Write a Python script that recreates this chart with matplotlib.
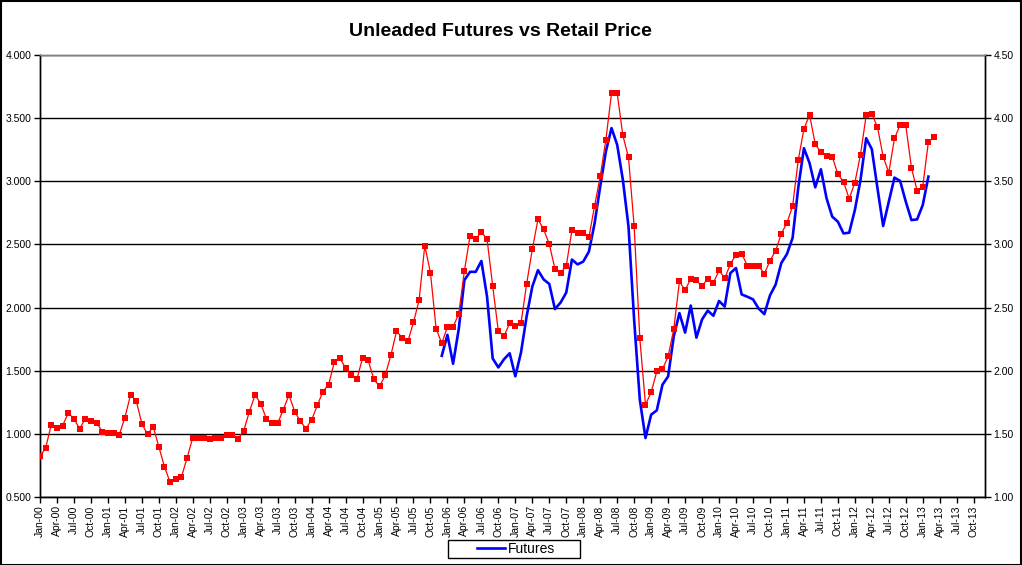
import numpy as np
import pandas as pd
import matplotlib
matplotlib.use("Agg")
import matplotlib.pyplot as plt
from matplotlib.patches import Rectangle
from matplotlib.ticker import FormatStrFormatter

plt.rcParams['font.family'] = ['Liberation Sans', 'DejaVu Sans']

# ----------------------------
# Data (monthly, Jan-00 .. Dec-13 categories)
# ----------------------------
months = pd.date_range("2000-01-01", periods=168, freq="MS").strftime("%b-%y").tolist()

# retail price (right axis), starts Jan-00
retail = [1.321, 1.389, 1.574, 1.55, 1.566, 1.666, 1.618, 1.542, 1.618, 1.605, 1.589, 1.518,
          1.503, 1.503, 1.49, 1.629, 1.808, 1.763, 1.582, 1.495, 1.558, 1.397, 1.239, 1.116,
          1.142, 1.16, 1.31, 1.471, 1.471, 1.471, 1.463, 1.471, 1.471, 1.487, 1.487, 1.463,
          1.524, 1.676, 1.808, 1.74, 1.62, 1.584, 1.584, 1.692, 1.808, 1.677, 1.60, 1.542,
          1.61, 1.725, 1.835, 1.89, 2.066, 2.10, 2.021, 1.963, 1.932, 2.10, 2.082, 1.932,
          1.876, 1.963, 2.121, 2.311, 2.263, 2.232, 2.382, 2.561, 2.99, 2.776, 2.334, 2.216,
          2.347, 2.347, 2.45, 2.791, 3.068, 3.045, 3.097, 3.042, 2.671, 2.311, 2.274, 2.376,
          2.352, 2.376, 2.689, 2.961, 3.198, 3.12, 3.003, 2.807, 2.775, 2.83, 3.112, 3.092,
          3.092, 3.056, 3.304, 3.538, 3.828, 4.198, 4.198, 3.863, 3.689, 3.142, 2.256, 1.731,
          1.828, 1.995, 2.013, 2.113, 2.33, 2.707, 2.637, 2.73, 2.715, 2.668, 2.73, 2.695,
          2.794, 2.732, 2.844, 2.919, 2.927, 2.833, 2.833, 2.833, 2.766, 2.872, 2.95, 3.085,
          3.17, 3.304, 3.669, 3.915, 4.026, 3.794, 3.728, 3.704, 3.696, 3.556, 3.497, 3.362,
          3.489, 3.712, 4.021, 4.034, 3.929, 3.696, 3.569, 3.839, 3.947, 3.942, 3.608, 3.426,
          3.458, 3.815, 3.849]

# unleaded futures (left axis), starts Dec-05
futures_start = "Dec-05"
futures = [1.618,
           1.784, 1.555, 1.83, 2.218, 2.283, 2.283, 2.369, 2.087, 1.597, 1.526, 1.591, 1.638,
           1.456, 1.644, 1.931, 2.166, 2.296, 2.223, 2.187, 1.988, 2.04, 2.119, 2.38, 2.342,
           2.364, 2.443, 2.665, 2.959, 3.236, 3.421, 3.289, 3.012, 2.642, 1.9, 1.27, 0.967,
           1.152, 1.186, 1.389, 1.455, 1.772, 1.956, 1.802, 2.016, 1.762, 1.906, 1.976, 1.935,
           2.052, 2.008, 2.273, 2.313, 2.104, 2.086, 2.065, 1.992, 1.948, 2.096, 2.182, 2.352,
           2.424, 2.552, 2.95, 3.262, 3.143, 2.952, 3.095, 2.865, 2.72, 2.68, 2.587, 2.593,
           2.772, 3.011, 3.341, 3.254, 2.944, 2.646, 2.839, 3.029, 3.003, 2.839, 2.693, 2.698,
           2.812, 3.037]

left_ticks = [0.5, 1.0, 1.5, 2.0, 2.5, 3.0, 3.5, 4.0]
right_ticks = [1.0, 1.5, 2.0, 2.5, 3.0, 3.5, 4.0, 4.5]

# ----------------------------
# Plot
# ----------------------------
W, H = 1022, 565
fig = plt.figure(figsize=(W / 100, H / 100), dpi=100)
ax = fig.add_axes([40 / W, 68 / H, 945 / W, 442 / H])
ax2 = ax.twinx()

x_retail = np.arange(len(retail))
i0 = months.index(futures_start)
x_fut = np.arange(i0, i0 + len(futures))

ax.plot(x_fut, futures, color="#0000FF", linewidth=1.9, label="Futures", zorder=3)
ax2.plot(x_retail, retail, color="#FF0000", linewidth=0.9, marker="s",
         markersize=4.6, markeredgewidth=0, zorder=4)

ax.set_xlim(0, len(months) - 1)
ax.set_ylim(0.5, 4.0)
ax2.set_ylim(1.0, 4.5)

ax.set_yticks(left_ticks)
ax2.set_yticks(right_ticks)
ax.yaxis.set_major_formatter(FormatStrFormatter("%.3f"))
ax2.yaxis.set_major_formatter(FormatStrFormatter("%.2f"))

tick_pos = list(range(0, len(months), 3))
ax.set_xticks(tick_pos)
ax.set_xticklabels([months[i] for i in tick_pos], rotation=90, fontsize=7.5)

ax.tick_params(axis="y", direction="out", length=4, width=1, labelsize=7.5, pad=2)
ax2.tick_params(axis="y", direction="out", length=4, width=1, labelsize=7.5, pad=2)
ax.tick_params(axis="x", direction="out", length=4, width=1, pad=2)

ax.yaxis.grid(True, color="black", linewidth=1)
ax.set_axisbelow(True)

for a in (ax, ax2):
    for s in a.spines.values():
        s.set_linewidth(1)
    a.spines["top"].set_color("#808080")
    a.spines["left"].set_color("black")
    a.spines["right"].set_color("black")
    a.spines["bottom"].set_color("black")

fig.text(500 / W, 1 - 31 / H, "Unleaded Futures vs Retail Price",
         ha="center", va="center", fontsize=14, fontweight="bold")

# legend without its own frame; Excel-style wide box drawn around it
leg = fig.legend(loc="center", bbox_to_anchor=(516 / W, 1 - 549 / H), fontsize=10,
                 frameon=False, handlelength=2.0, borderpad=0.2,
                 handletextpad=0.25, borderaxespad=0)
fig.patches.append(Rectangle((448 / W, 1 - 558 / H), 132 / W, 18 / H,
                             transform=fig.transFigure, fill=False,
                             edgecolor="black", linewidth=1))

fig.patches.append(Rectangle((0.5 / W, 0.5 / H), 1 - 1.5 / W, 1 - 1.5 / H,
                             transform=fig.transFigure, fill=False,
                             edgecolor="black", linewidth=1.5))

fig.savefig("out.png", dpi=100)
